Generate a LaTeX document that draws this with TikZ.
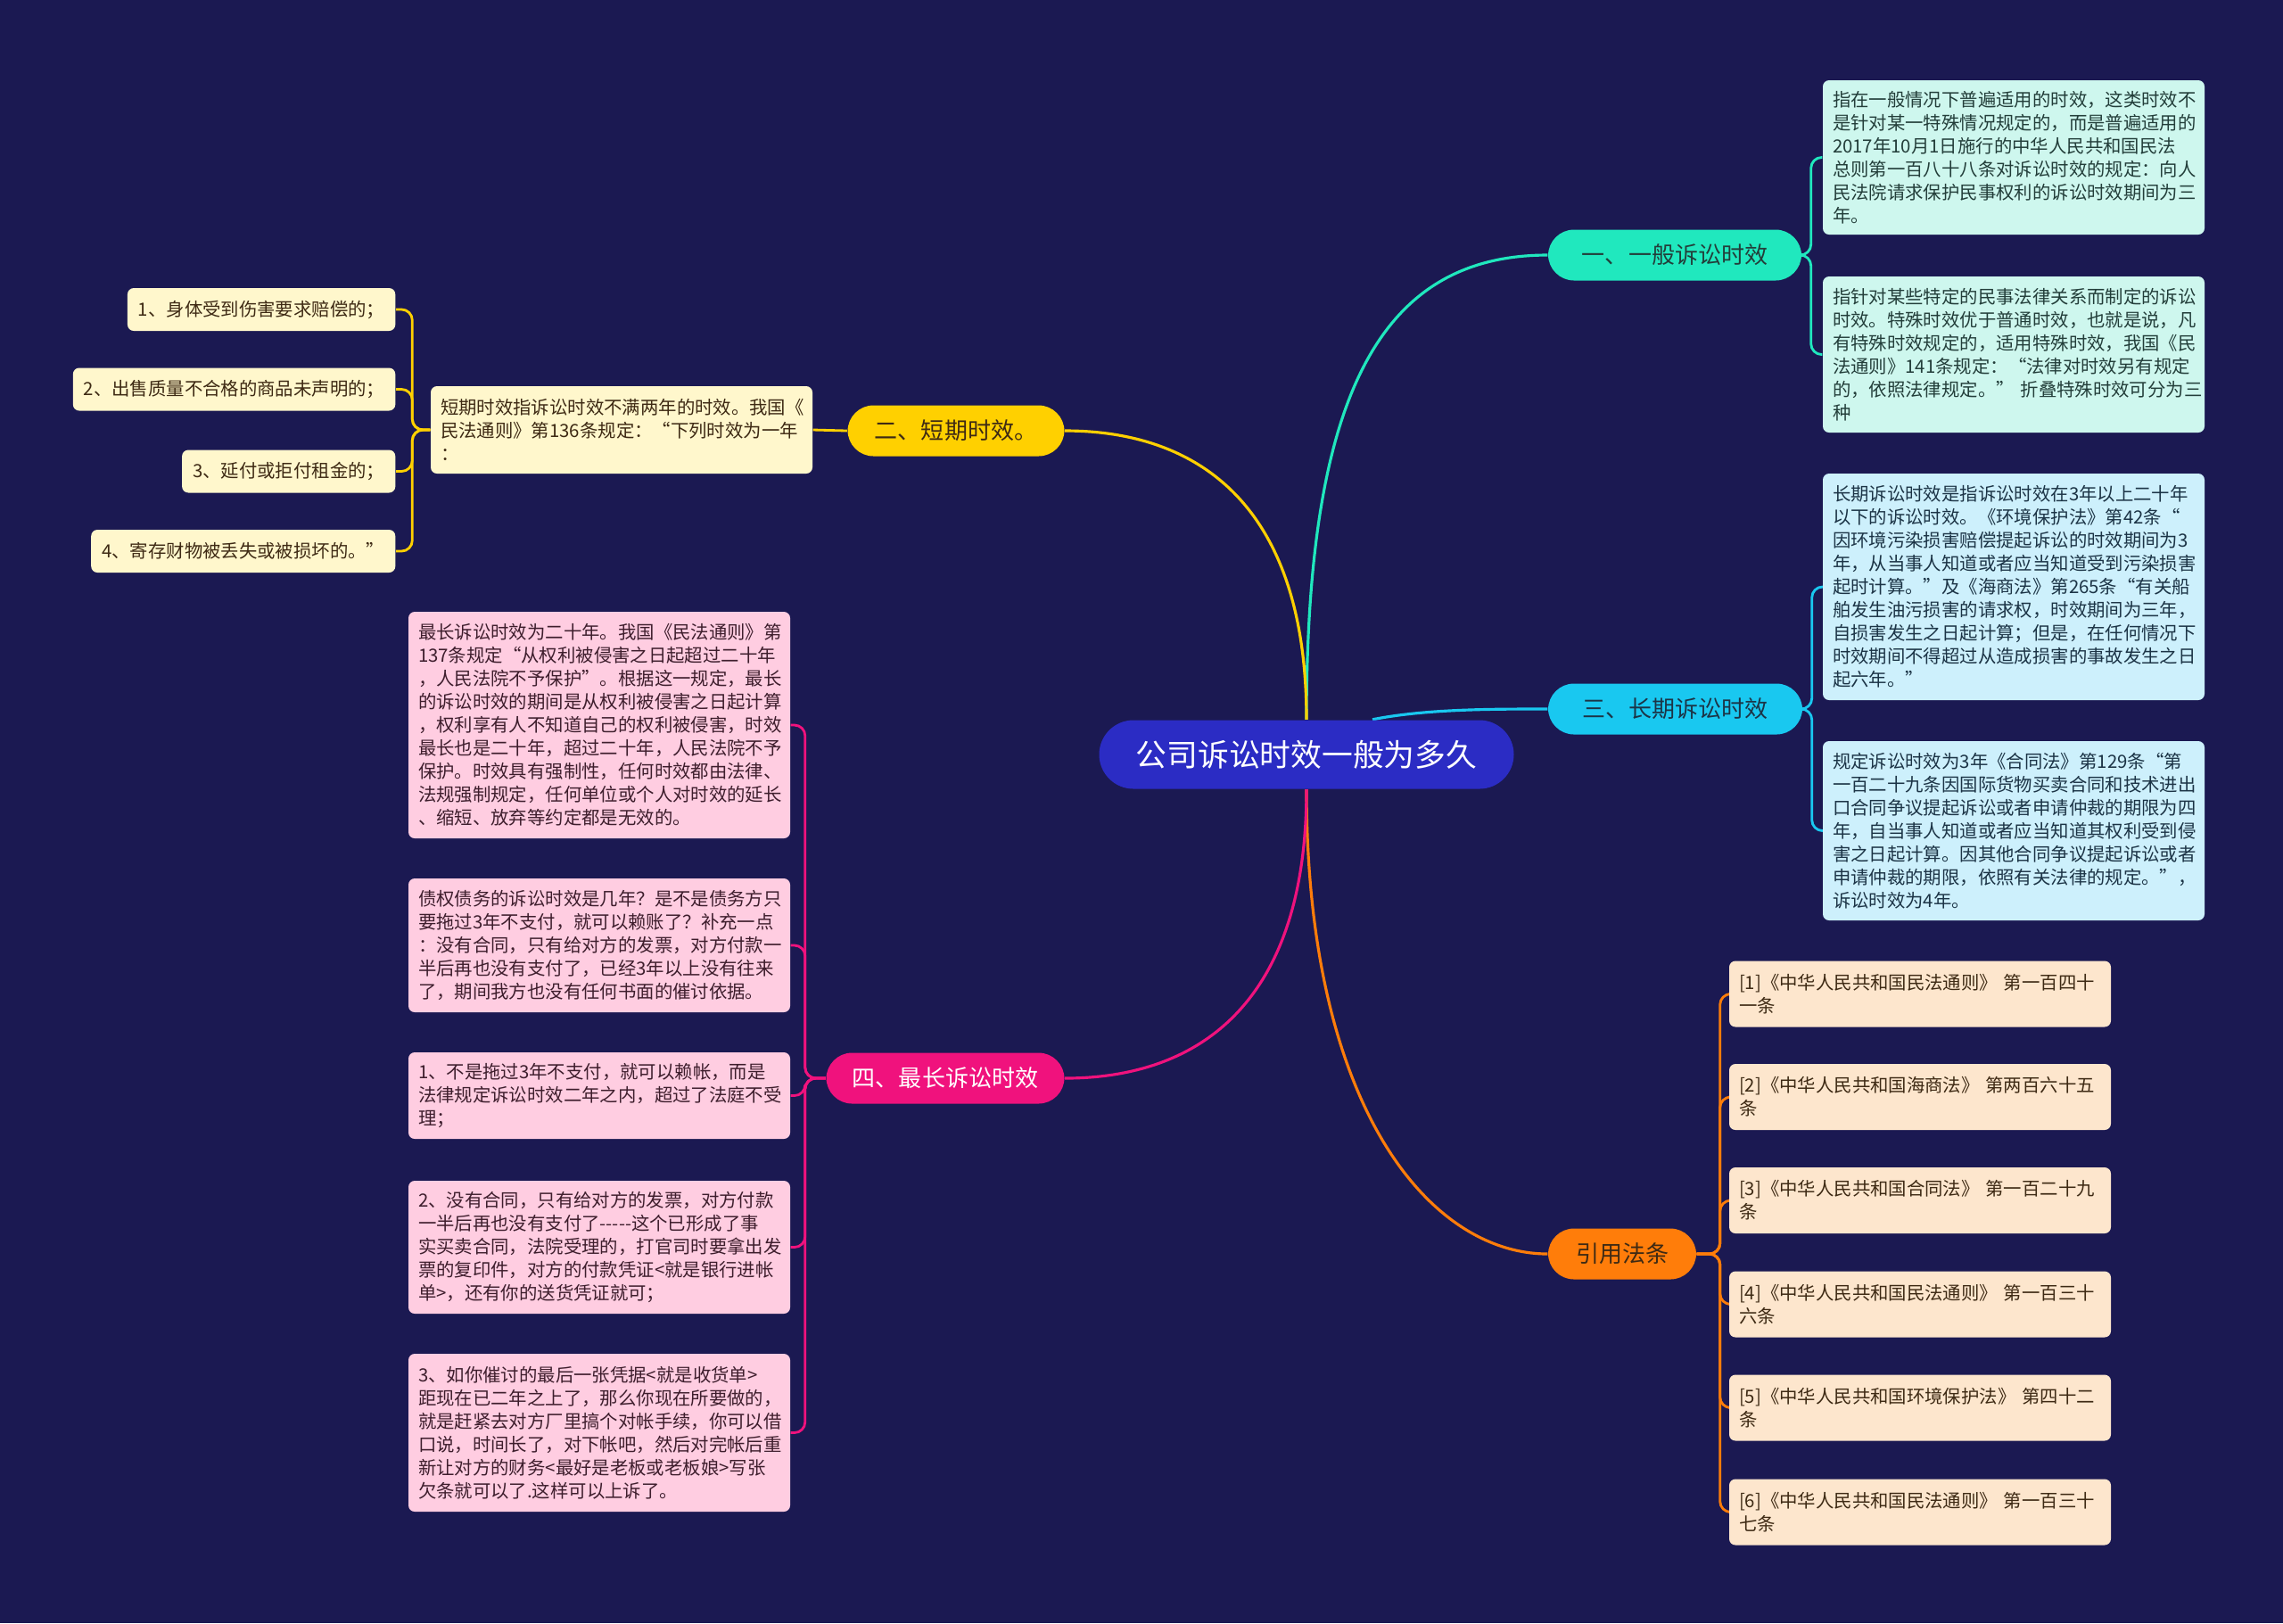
\documentclass[tikz,border=0pt]{standalone}
\usepackage{fontspec}
\setmainfont{Noto Sans CJK SC}
\usetikzlibrary{backgrounds}
\definecolor{navy}{RGB}{27,25,82}
\definecolor{rootblue}{RGB}{43,44,196}
\definecolor{teal1}{RGB}{32,232,190}
\definecolor{tealfill}{RGB}{206,247,238}
\definecolor{cyan3}{RGB}{25,200,240}
\definecolor{cyanfill}{RGB}{205,240,252}
\definecolor{yellow2}{RGB}{255,208,0}
\definecolor{shortfill}{RGB}{255,247,204}
\definecolor{pink4}{RGB}{240,18,125}
\definecolor{pinkfill}{RGB}{255,205,225}
\definecolor{orangeref}{RGB}{255,125,10}
\definecolor{reffill}{RGB}{253,230,205}
\definecolor{darkteal}{RGB}{35,62,58}
\definecolor{darkblue}{RGB}{28,52,70}
\definecolor{darkbrown}{RGB}{62,42,20}
\definecolor{darkplum}{RGB}{62,30,45}

\begin{document}
\begin{tikzpicture}[
  font=\fontsize{5.8}{7.4}\selectfont,
  root/.style={fill=rootblue, text=white, rounded corners=0.385cm, minimum width=4.65cm, minimum height=0.77cm, inner sep=0pt, font=\fontsize{9.9}{12}\selectfont},
  topic/.style={rounded corners=0.29cm, minimum height=0.57cm, inner sep=0pt, font=\fontsize{7.4}{9}\selectfont},
  leaf/.style={rounded corners=0.07cm, text width=4.06cm, inner xsep=0.11cm, inner ysep=0pt, align=left},
  item/.style={rounded corners=0.07cm, fill=shortfill, text=darkbrown, inner xsep=0.12cm, inner ysep=0pt, minimum height=0.48cm, anchor=east},
  ref/.style={leaf, fill=reffill, text=darkbrown, minimum height=0.74cm},
  branch/.style={line width=0.9pt},
  twig/.style={line width=0.8pt, rounded corners=0.12cm}
]
\node[root] (root) at (14.65,-8.46) {公司诉讼时效一般为多久};

\node[topic, fill=teal1, text=darkteal, minimum width=2.84cm] (gen) at (18.78,-2.86) {一、一般诉讼时效};
\node[topic, fill=cyan3, text=darkblue, minimum width=2.85cm] (long) at (18.785,-7.95) {三、长期诉讼时效};
\node[topic, fill=orangeref, text=darkbrown, minimum width=1.66cm] (cite) at (18.19,-14.06) {引用法条};
\node[topic, fill=yellow2, text=darkbrown, minimum width=2.43cm] (short) at (10.72,-4.83) {二、短期时效。};
\node[topic, fill=pink4, text=white, minimum width=2.67cm] (max) at (10.60,-12.09) {四、最长诉讼时效};

\node[leaf, fill=tealfill, text=darkteal, minimum height=1.73cm] (gen1) at (22.58,-1.765) {指在一般情况下普遍适用的时效，这类时效不\\是针对某一特殊情况规定的，而是普遍适用的\\2017年10月1日施行的中华人民共和国民法\\总则第一百八十八条对诉讼时效的规定：向人\\民法院请求保护民事权利的诉讼时效期间为三\\年。};
\node[leaf, fill=tealfill, text=darkteal, minimum height=1.75cm] (gen2) at (22.58,-3.975) {指针对某些特定的民事法律关系而制定的诉讼\\时效。特殊时效优于普通时效，也就是说，凡\\有特殊时效规定的，适用特殊时效，我国《民\\法通则》141条规定：“法律对时效另有规定\\的，依照法律规定。”~折叠特殊时效可分为三\\种};
\node[leaf, fill=cyanfill, text=darkblue, minimum height=2.54cm] (long1) at (22.58,-6.58) {长期诉讼时效是指诉讼时效在3年以上二十年\\以下的诉讼时效。《环境保护法》第42条“\\因环境污染损害赔偿提起诉讼的时效期间为3\\年，从当事人知道或者应当知道受到污染损害\\起时计算。”及《海商法》第265条“有关船\\舶发生油污损害的请求权，时效期间为三年，\\自损害发生之日起计算；但是，在任何情况下\\时效期间不得超过从造成损害的事故发生之日\\起六年。”};
\node[leaf, fill=cyanfill, text=darkblue, minimum height=2.01cm] (long2) at (22.58,-9.315) {规定诉讼时效为3年《合同法》第129条“第\\一百二十九条因国际货物买卖合同和技术进出\\口合同争议提起诉讼或者申请仲裁的期限为四\\年，自当事人知道或者应当知道其权利受到侵\\害之日起计算。因其他合同争议提起诉讼或者\\申请仲裁的期限，依照有关法律的规定。”，\\诉讼时效为4年。};

\node[ref] (ref1) at (21.53,-11.145) {[1]《中华人民共和国民法通则》~第一百四十\\一条};
\node[ref] (ref2) at (21.53,-12.30) {[2]《中华人民共和国海商法》~第两百六十五\\条};
\node[ref] (ref3) at (21.53,-13.46) {[3]《中华人民共和国合同法》~第一百二十九\\条};
\node[ref] (ref4) at (21.53,-14.625) {[4]《中华人民共和国民法通则》~第一百三十\\六条};
\node[ref] (ref5) at (21.53,-15.785) {[5]《中华人民共和国环境保护法》~第四十二\\条};
\node[ref] (ref6) at (21.53,-16.955) {[6]《中华人民共和国民法通则》~第一百三十\\七条};

\node[leaf, fill=shortfill, text=darkbrown, minimum height=0.98cm] (shortdef) at (6.97,-4.82) {短期时效指诉讼时效不满两年的时效。我国《\\民法通则》第136条规定：“下列时效为一年\\：};
\node[item] (case1) at (4.44,-3.47) {1、身体受到伤害要求赔偿的；};
\node[item] (case2) at (4.44,-4.365) {2、出售质量不合格的商品未声明的；};
\node[item] (case3) at (4.44,-5.285) {3、延付或拒付租金的；};
\node[item] (case4) at (4.44,-6.18) {4、寄存财物被丢失或被损坏的。”};

\node[leaf, fill=pinkfill, text=darkplum, minimum height=2.54cm] (max1) at (6.72,-8.13) {最长诉讼时效为二十年。我国《民法通则》第\\137条规定“从权利被侵害之日起超过二十年\\，人民法院不予保护”。根据这一规定，最长\\的诉讼时效的期间是从权利被侵害之日起计算\\，权利享有人不知道自己的权利被侵害，时效\\最长也是二十年，超过二十年，人民法院不予\\保护。时效具有强制性，任何时效都由法律、\\法规强制规定，任何单位或个人对时效的延长\\、缩短、放弃等约定都是无效的。};
\node[leaf, fill=pinkfill, text=darkplum, minimum height=1.50cm] (max2) at (6.72,-10.60) {债权债务的诉讼时效是几年？是不是债务方只\\要拖过3年不支付，就可以赖账了？补充一点\\：没有合同，只有给对方的发票，对方付款一\\半后再也没有支付了，已经3年以上没有往来\\了，期间我方也没有任何书面的催讨依据。};
\node[leaf, fill=pinkfill, text=darkplum, minimum height=0.97cm] (max3) at (6.72,-12.285) {1、不是拖过3年不支付，就可以赖帐，而是\\法律规定诉讼时效二年之内，超过了法庭不受\\理；};
\node[leaf, fill=pinkfill, text=darkplum, minimum height=1.49cm] (max4) at (6.72,-13.985) {2、没有合同，只有给对方的发票，对方付款\\一半后再也没有支付了{-}{-}{-}{-}{-}这个已形成了事\\实买卖合同，法院受理的，打官司时要拿出发\\票的复印件，对方的付款凭证<就是银行进帐\\单>，还有你的送货凭证就可；};
\node[leaf, fill=pinkfill, text=darkplum, minimum height=1.77cm] (max5) at (6.72,-16.065) {3、如你催讨的最后一张凭据<就是收货单>\\距现在已二年之上了，那么你现在所要做的，\\就是赶紧去对方厂里搞个对帐手续，你可以借\\口说，时间长了，对下帐吧，然后对完帐后重\\新让对方的财务<最好是老板或老板娘>写张\\欠条就可以了.这样可以上诉了。};

\begin{pgfonlayer}{background}
\fill[navy] (0,0) rectangle (25.6,-18.2);
\draw[branch, teal1] (root.north) .. controls +(0,3.6) and +(-1.9,0) .. (gen.west);
\draw[branch, cyan3] ([xshift=0.74cm]root.north) .. controls +(0.6,0.12) and +(-0.6,0) .. (long.west);
\draw[branch, orangeref] (root.south) .. controls +(0,-3.6) and +(-1.3,0) .. (cite.west);
\draw[branch, yellow2] (root.north) .. controls +(0,2.4) and +(1.5,0) .. (short.east);
\draw[branch, pink4] (root.south) .. controls +(0,-2.4) and +(1.5,0) .. (max.east);
\draw[twig, teal1] (gen.east) -- ++(0.1,0) |- (gen1.west);
\draw[twig, teal1] (gen.east) -- ++(0.1,0) |- (gen2.west);
\draw[twig, cyan3] (long.east) -- ++(0.1,0) |- (long1.west);
\draw[twig, cyan3] (long.east) -- ++(0.1,0) |- (long2.west);
\draw[twig, orangeref] (cite.east) -- ++(0.26,0) |- (ref1.west);
\draw[twig, orangeref] (cite.east) -- ++(0.26,0) |- (ref2.west);
\draw[twig, orangeref] (cite.east) -- ++(0.26,0) |- (ref3.west);
\draw[twig, orangeref] (cite.east) -- ++(0.26,0) |- (ref4.west);
\draw[twig, orangeref] (cite.east) -- ++(0.26,0) |- (ref5.west);
\draw[twig, orangeref] (cite.east) -- ++(0.26,0) |- (ref6.west);
\draw[twig, yellow2] (short.west) -- (shortdef.east);
\draw[twig, yellow2] (shortdef.west) -- ++(-0.2,0) |- (case1.east);
\draw[twig, yellow2] (shortdef.west) -- ++(-0.2,0) |- (case2.east);
\draw[twig, yellow2] (shortdef.west) -- ++(-0.2,0) |- (case3.east);
\draw[twig, yellow2] (shortdef.west) -- ++(-0.2,0) |- (case4.east);
\draw[twig, pink4] (max.west) -- ++(-0.23,0) |- (max1.east);
\draw[twig, pink4] (max.west) -- ++(-0.23,0) |- (max2.east);
\draw[twig, pink4] (max.west) -- ++(-0.23,0) |- (max3.east);
\draw[twig, pink4] (max.west) -- ++(-0.23,0) |- (max4.east);
\draw[twig, pink4] (max.west) -- ++(-0.23,0) |- (max5.east);
\end{pgfonlayer}
\end{tikzpicture}
\end{document}
